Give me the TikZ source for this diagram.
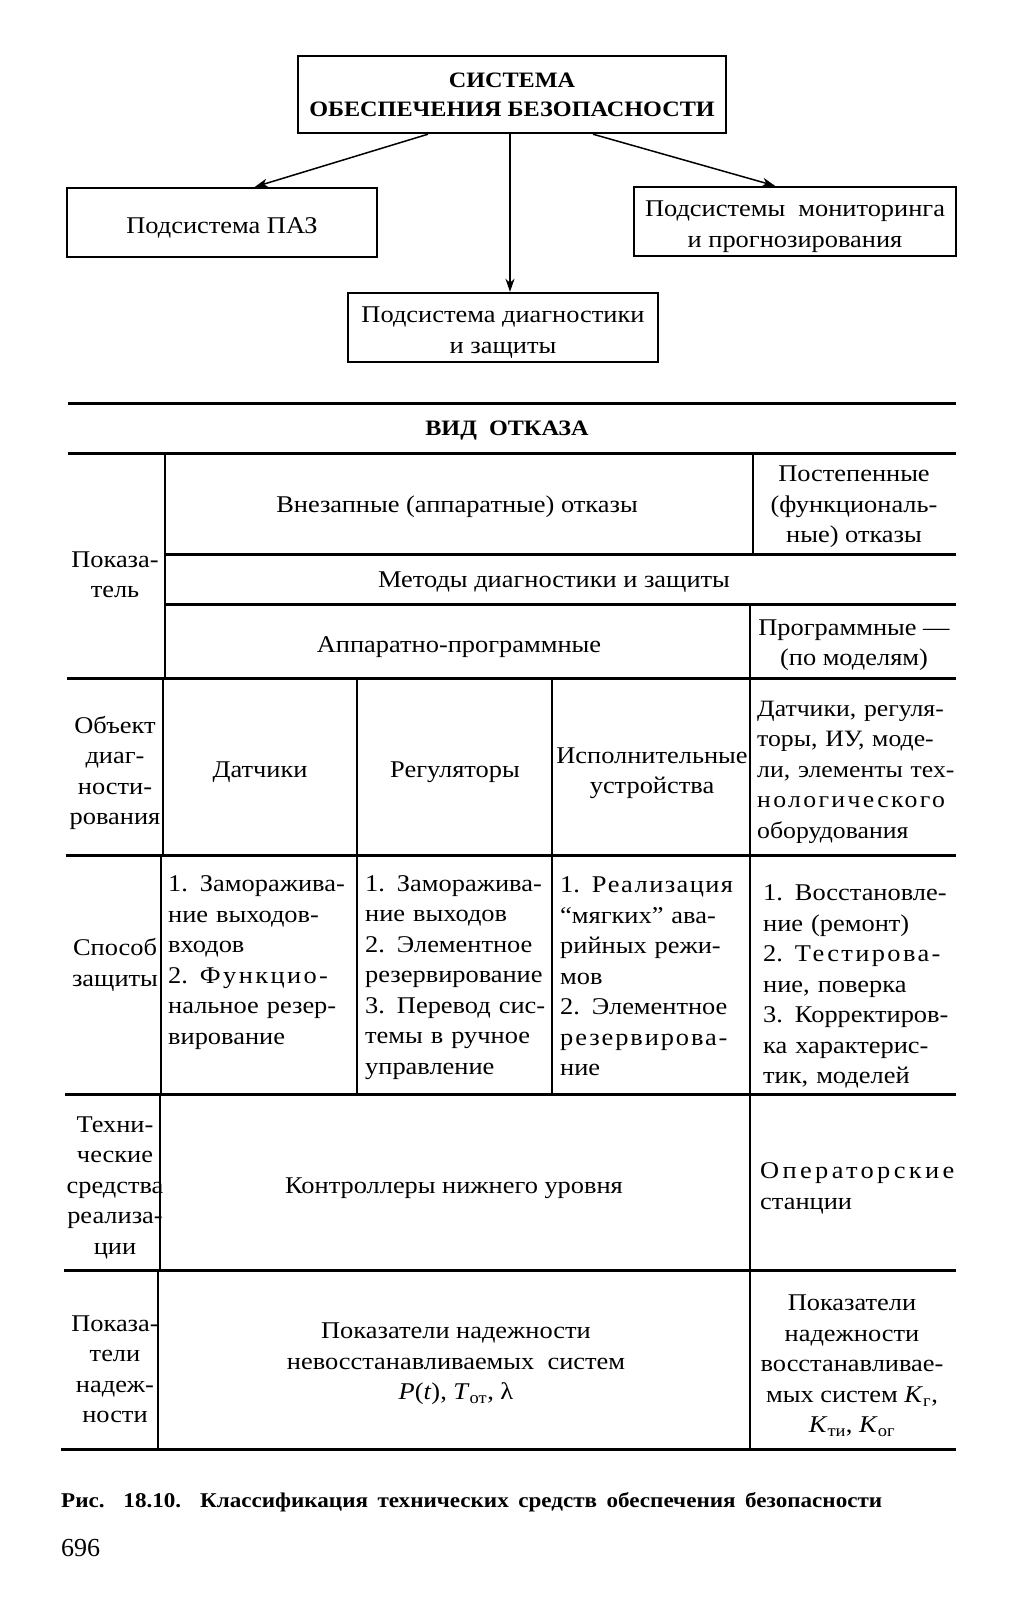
\documentclass[tikz,border=0pt]{standalone}
\usepackage{fontspec}
\setmainfont{Liberation Serif}[FakeStretch=1.1]
\newfontfamily\plainfont{Liberation Serif}
\usetikzlibrary{arrows.meta}
\newcommand\fs{\fontsize{24}{30.5}\selectfont}
\newcommand\J[2]{\makebox[#1][s]{#2}}
\newcommand\lsp[2]{{\addfontfeatures{LetterSpace=#1}#2}}
\newcommand\tallstrut[1]{\rule{0pt}{#1}}
\begin{document}
\begin{tikzpicture}[x=1pt,y=-1pt,
  box/.style={draw,line width=2.4pt,inner sep=0pt,align=center,font=\fontsize{24}{31.5}\selectfont},
  arr/.style={line width=1.5pt,-{Stealth[length=13pt,width=9pt,inset=4pt]}},
  rule/.style={line width=3pt},
  vr/.style={line width=2pt},
  t/.style={inner sep=0pt,align=center,font=\fs},
  tl/.style={inner sep=0pt,align=left,font=\fs,anchor=west},
]
\useasboundingbox (0,0) rectangle (1017,1600);
\fill[white] (0,0) rectangle (1017,1600);

% ---- upper block diagram
\node[box,minimum width=428pt,minimum height=77pt,font=\fontsize{22}{29}\selectfont\bfseries] (sys) at (512,94.5) {СИСТЕМА\\ОБЕСПЕЧЕНИЯ БЕЗОПАСНОСТИ};
\node[box,minimum width=310pt,minimum height=69pt] (paz) at (222,222.5) {\tallstrut{27pt}Подсистема ПАЗ};
\node[box,minimum width=322pt,minimum height=69pt] (mon) at (795,221.5) {\tallstrut{26pt}Подсистемы\ \ мониторинга\\и прогнозирования};
\node[box,minimum width=310pt,minimum height=69pt] (diag) at (503,327.5) {\tallstrut{26pt}Подсистема диагностики\\и защиты};
\draw[arr] ([xshift=-84pt]sys.south) -- ([xshift=33pt]paz.north);
\draw[arr] ([xshift=-2pt]sys.south) -- ([xshift=7pt]diag.north);
\draw[arr] ([xshift=81pt]sys.south) -- ([xshift=-20pt]mon.north);

% ---- table rules
\draw[rule] (68,403) -- (956,403);
\draw[rule] (68,453) -- (956,453);
\draw[rule] (165,554) -- (956,554);
\draw[rule] (165,604) -- (956,604);
\draw[rule] (67,678) -- (956,678);
\draw[rule] (66,855) -- (956,855);
\draw[rule] (65,1094) -- (956,1094);
\draw[rule] (64,1270) -- (956,1270);
\draw[rule] (61,1449) -- (956,1449);
% verticals
\draw[vr] (165,453) -- (165,678);
\draw[vr] (163,678) -- (163,855);
\draw[vr] (161,855) -- (161,1094);
\draw[vr] (160,1094) -- (160,1270);
\draw[vr] (158,1270) -- (158,1449);
\draw[vr] (753,453) -- (753,554);
\draw[vr] (750,604) -- (750,678);
\draw[vr] (357,678) -- (357,1094);
\draw[vr] (552,678) -- (552,1094);
\draw[vr] (750,678) -- (750,1094);
\draw[vr] (750,1094) -- (750,1449);

% ---- table texts
\node[t,font=\fontsize{22}{28}\selectfont\bfseries] (vid) at (507,431) {ВИД\ \ ОТКАЗА};
\node[t] (vnez) at (457,507) {Внезапные (аппаратные) отказы};
\node[t] (post) at (854,507) {Постепенные\\(функциональ-\\ные) отказы};
\node[t] (pok) at (115,575) {Показа-\\тель};
\node[t] (met) at (554,582) {Методы диагностики и защиты};
\node[t] (app) at (459,647) {Аппаратно-программные};
\node[t] (prog) at (854,645) {Программные —\\(по моделям)};

\node[t] (obj) at (115,773) {Объект\\диаг-\\ности-\\рования};
\node[t] (dat) at (260,772) {Датчики};
\node[t] (reg) at (455,772) {Регуляторы};
\node[t] (isp) at (652,773) {Исполнительные\\устройства};
\node[tl,text width=194pt,font=\fontsize{23.4}{30.5}\selectfont] (obr) at (757,772) {\J{194pt}{Датчики, регуля-}\\\J{194pt}{торы, ИУ, моде-}\\\J{194pt}{ли, элементы тех-}\\\lsp{10}{нологического}\\оборудования};

\node[t] (spos) at (115,965) {Способ\\защиты};
\node[tl,text width=182pt] (c1) at (168,962.5) {\J{182pt}{1. Заморажива-}\\\J{182pt}{ние выходов-}\\входов\\\J{182pt}{2. \lsp{10}{Функцио-}}\\\J{182pt}{нальное резер-}\\вирование};
\node[tl,text width=182pt] (c2) at (365,977.5) {\J{182pt}{1. Заморажива-}\\ние выходов\\\J{182pt}{2. Элементное}\\\J{182pt}{резервирование}\\\J{182pt}{3. Перевод сис-}\\\J{182pt}{темы в ручное}\\управление};
\node[tl,text width=185pt] (c3) at (560,976.5) {\J{185pt}{1. \lsp{6}{Реализация}}\\\J{185pt}{“мягких” ава-}\\\J{185pt}{рийных режи-}\\мов\\\J{185pt}{2. Элементное}\\\lsp{8}{резервирова-}\\ние};
\node[tl,text width=190pt] (c4) at (763,986.5) {\J{190pt}{1. Восстановле-}\\ние (ремонт)\\\J{190pt}{2. \lsp{10}{Тестирова-}}\\ние, поверка\\\J{190pt}{3. Корректиров-}\\\J{190pt}{ка характерис-}\\тик, моделей};

\node[t] (tech) at (115,1187.5) {Техни-\\ческие\\средства\\реализа-\\ции};
\node[t] (kont) at (454,1188) {Контроллеры нижнего уровня};
\node[tl] (oper) at (760,1188.5) {\lsp{14}{Операторские}\\станции};

\node[t] (pokn) at (115,1369) {Показа-\\тели\\надеж-\\ности};
\node[t] (pn) at (456,1364) {Показатели надежности\\невосстанавливаемых\ \ систем\\\textit{P}(\textit{t}), \textit{T}\textsubscript{от}, λ};
\node[t] (pv) at (852,1366) {Показатели\\надежности\\восстанавливае-\\мых систем \textit{K}\textsubscript{г},\\\textit{K}\textsubscript{ти}, \textit{K}\textsubscript{ог}};

% ---- caption
\node[anchor=west,inner sep=0pt,font=\fontsize{21}{25}\selectfont\bfseries] (cap) at (61,1502) {\makebox[821pt][s]{Рис. 18.10. Классификация технических средств обеспечения безопасности}};
\node[anchor=west,inner sep=0pt,font=\plainfont\fontsize{26}{30}\selectfont] (pg) at (61,1548) {696};
\end{tikzpicture}
\end{document}
